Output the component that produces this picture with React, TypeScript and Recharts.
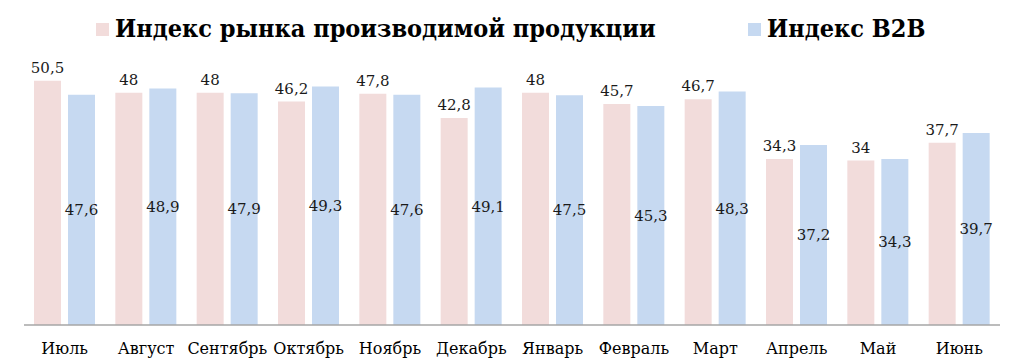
import React from 'react';
import { BarChart, Bar, XAxis, YAxis, LabelList, Legend } from 'recharts';

const months = ['Июль', 'Август', 'Сентябрь', 'Октябрь', 'Ноябрь', 'Декабрь', 'Январь', 'Февраль', 'Март', 'Апрель', 'Май', 'Июнь'];
const marketIndex = [50.5, 48, 48, 46.2, 47.8, 42.8, 48, 45.7, 46.7, 34.3, 34, 37.7];
const b2bIndex = [47.6, 48.9, 47.9, 49.3, 47.6, 49.1, 47.5, 45.3, 48.3, 37.2, 34.3, 39.7];
const seriesNames = ['Индекс рынка производимой продукции', 'Индекс B2B'];

const data = months.map((m, i) => ({ month: m, market: marketIndex[i], b2b: b2bIndex[i] }));

const PINK = '#F2DCDB';
const BLUE = '#C6D9F1';
const FONT = '"DejaVu Serif", serif';
const LEGEND_FONT = '"DejaVu Serif Condensed", "DejaVu Serif", serif';

const fmt = (v: any) => String(v).replace('.', ',');

const LegendContent = (props: any) => {
  const payload = [...(props.payload || [])].sort(
    (a: any, b: any) => seriesNames.indexOf(a.value) - seriesNames.indexOf(b.value)
  );
  const lefts = [96, 748];
  return (
    <div style={{ position: 'relative', width: 1024, height: 36 }}>
      {payload.map((p: any, i: number) => (
        <div key={i} style={{ position: 'absolute', left: lefts[i], top: 0, display: 'flex', alignItems: 'center', whiteSpace: 'nowrap' }}>
          <span style={{ display: 'inline-block', width: 13, height: 13, background: p.color, marginRight: 6 }} />
          <span style={{ fontFamily: LEGEND_FONT, fontStretch: 'condensed', fontWeight: 'bold', fontSize: 25, color: '#000', lineHeight: '36px' }}>{p.value}</span>
        </div>
      ))}
    </div>
  );
};

export default function App() {
  return (
    <div style={{ position: 'absolute', left: 0, top: 0, width: 1024, height: 361, background: '#fff' }}>
      <BarChart width={1024} height={361} data={data} margin={{ top: 59, right: 24, left: 24, bottom: 0 }} barCategoryGap={10} barGap={7}>
        <XAxis dataKey="month" interval={0} tickLine={false} axisLine={{ stroke: '#A6A6A6', strokeWidth: 1.5 }} tick={{ fontFamily: FONT, fontSize: 16, fill: '#000' }} tickMargin={12} height={36} />
        <YAxis hide domain={[0, 55]} />
        <Legend verticalAlign="middle" align="center" layout="horizontal" wrapperStyle={{ top: 11, left: 0, width: 1024 }} content={<LegendContent />} />
        <Bar dataKey="market" name={seriesNames[0]} fill={PINK} barSize={27} isAnimationActive={false}>
          <LabelList dataKey="market" position="top" offset={8} formatter={fmt} style={{ fontFamily: FONT, fontSize: 15, fill: '#1a1a1a' }} />
        </Bar>
        <Bar dataKey="b2b" name={seriesNames[1]} fill={BLUE} barSize={27} isAnimationActive={false}>
          <LabelList dataKey="b2b" position="center" formatter={fmt} style={{ fontFamily: FONT, fontSize: 15, fill: '#1a1a1a' }} />
        </Bar>
      </BarChart>
    </div>
  );
}
